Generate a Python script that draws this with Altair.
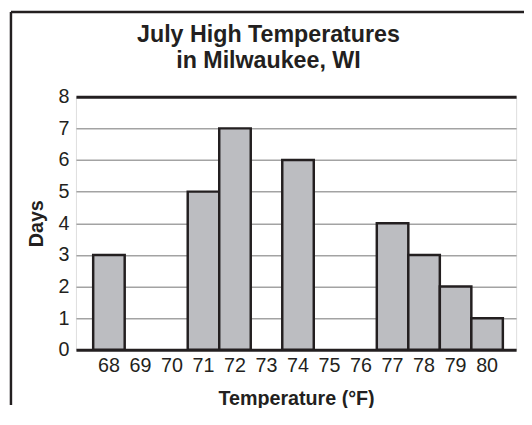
import altair as alt
import pandas as pd

temps = [68, 69, 70, 71, 72, 73, 74, 75, 76, 77, 78, 79, 80]
days = [3, 0, 0, 5, 7, 0, 6, 0, 0, 4, 3, 2, 1]
title_lines = ["July High Temperatures", "in Milwaukee, WI"]
y_ticks = [0, 1, 2, 3, 4, 5, 6, 7, 8]
x_title = "Temperature (°F)"
y_title = "Days"

INK = "#231f20"
FONT = "Liberation Sans"
cats = [str(t) for t in temps]

df = pd.DataFrame({"temp": cats, "days": days})
df = df[df["days"] > 0]

bars = alt.Chart(df).mark_bar(fill="#bcbdc1", stroke=INK, strokeWidth=2.5).encode(
    x=alt.X(
        "temp:N",
        sort=cats,
        scale=alt.Scale(domain=cats, paddingInner=0, paddingOuter=0.484, align=0.565),
        axis=alt.Axis(
            title=x_title, labelAngle=0, ticks=False, tickSize=0, domain=False,
            labelPadding=6, titlePadding=14, grid=False,
            labelFontSize=20, labelFont=FONT, labelColor=INK,
            titleFontSize=20, titleFont=FONT, titleColor=INK, titleFontWeight="bold",
        ),
    ),
    y=alt.Y(
        "days:Q",
        scale=alt.Scale(domain=[0, 8], nice=False),
        axis=alt.Axis(
            values=y_ticks, title=y_title, ticks=False, tickSize=0, domain=False,
            labelPadding=7, titlePadding=12,
            labelFontSize=20, labelFont=FONT, labelColor=INK,
            titleFontSize=20, titleFont=FONT, titleColor=INK, titleFontWeight="bold",
            grid=True,
            gridColor={"condition": {"test": "datum.value == 0 || datum.value == 8", "value": INK}, "value": "#a3a3a3"},
            gridWidth={"condition": {"test": "datum.value == 0 || datum.value == 8", "value": 3}, "value": 1.5},
            gridOpacity=1,
        ),
    ),
)

one = pd.DataFrame({"a": [0]})
frame_left = alt.Chart(one).mark_rule(color=INK, strokeWidth=2.5).encode(
    x=alt.value(-66), y=alt.value(-86), y2=alt.value(313)
)
frame_top = alt.Chart(one).mark_rule(color=INK, strokeWidth=2.5).encode(
    x=alt.value(-66), x2=alt.value(460), y=alt.value(-86)
)

chart = alt.layer(bars, frame_left, frame_top).properties(
    width=447,
    height=257,
    title=alt.Title(
        title_lines, fontSize=23.6, fontWeight="bold", font=FONT, color=INK,
        anchor="middle", dx=-28, dy=85, offset=22, lineHeight=26.5,
    ),
    autosize=alt.AutoSizeParams(type="none"),
    padding={"left": 69, "top": 87, "right": 8, "bottom": 56},
).configure_view(stroke=INK, strokeWidth=3).configure(background="white")

chart.save("out.html", embed_options={"renderer": "svg", "actions": False})
